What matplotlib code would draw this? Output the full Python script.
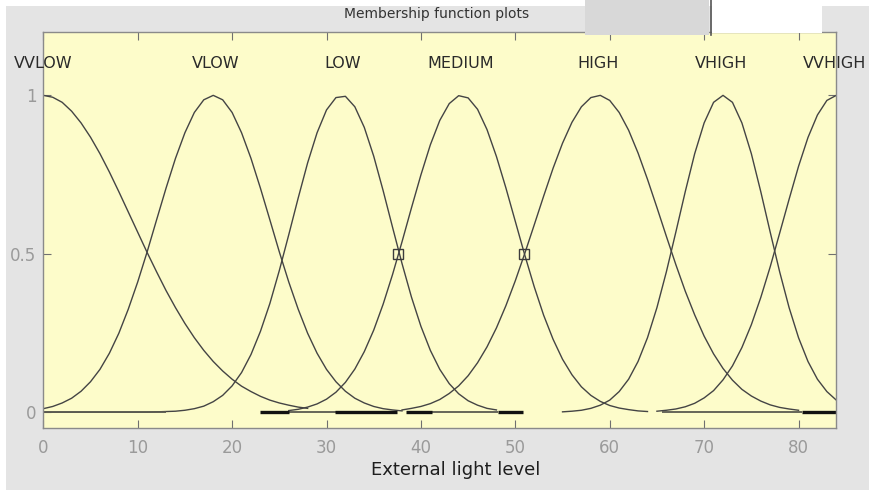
import matplotlib
matplotlib.use('Agg')
import matplotlib.pyplot as plt
from matplotlib.patches import Rectangle

# membership function names
names = ['VVLOW', 'VLOW', 'LOW', 'MEDIUM', 'HIGH', 'VHIGH', 'VVHIGH']
label_x = [0, 18.3, 31.7, 44.2, 58.8, 71.8, 83.8]

# curve samples (x in light level, y in membership degree)
vvlow_x = list(range(0, 29))
vvlow_y = [1, .994, .978, .950, .913, .868, .816, .758, .696, .632, .568, .504, .443, .384, .330,
           .280, .235, .195, .160, .130, .104, .082, .065, .050, .038, .029, .022, .016, .012]

vlow_x = list(range(0, 39))
vlow_y = [.011, .018, .029, .044, .066, .096, .135, .186, .249, .325, .411, .506, .607, .707, .801,
          .882, .946, .986, 1, .986, .946, .882, .801, .707, .607, .506, .411, .325, .249, .186,
          .135, .096, .066, .044, .029, .018, .011, .007, .004]

low_x = list(range(0, 49))
low_y = [0, 0, 0, 0, 0, 0, 0, 0, 0, 0, 0, 0, .001, .002, .003, .006, .011, .019, .033, .053,
         .083, .125, .182, .255, .343, .447, .560, .676, .787, .882, .954, .993, .997, .964, .899,
         .808, .699, .583, .469, .363, .271, .195, .135, .090, .058, .036, .022, .012, .007]

medium_x = list(range(26, 65))
medium_y = [.005, .009, .016, .026, .041, .063, .094, .136, .191, .259, .341, .435, .538, .645,
            .749, .844, .921, .974, .999, .992, .956, .892, .807, .708, .602, .496, .396, .306,
            .230, .167, .118, .080, .053, .034, .021, .013, .008, .004, .002]

high_x = list(range(38, 81))
high_y = [.007, .012, .018, .027, .040, .059, .083, .115, .156, .206, .266, .336, .415, .501,
          .591, .682, .770, .849, .915, .964, .993, 1.0, .984, .946, .890, .818, .735, .646, .555,
          .466, .382, .307, .240, .184, .138, .101, .072, .051, .035, .023, .015, .010, .006]

vhigh_x = list(range(55, 85))
vhigh_y = [.001, .003, .006, .012, .022, .038, .065, .104, .160, .235, .330, .443, .568, .696,
           .816, .913, .978, 1, .978, .913, .816, .696, .568, .443, .330, .235, .160, .104, .065,
           .038]

vvhigh_x = list(range(65, 85))
vvhigh_y = [.003, .006, .010, .017, .028, .045, .068, .102, .146, .204, .276, .362, .459, .565,
            .672, .776, .867, .938, .984, 1]

curves_x = [vvlow_x, vlow_x, low_x, medium_x, high_x, vhigh_x, vvhigh_x]
curves_y = [vvlow_y, vlow_y, low_y, medium_y, high_y, vhigh_y, vvhigh_y]

# overlapping tails along zero
thin_start = [0, 26, 41, 65.5]
thin_end = [13, 31, 48.2, 80.4]
thick_start = [23, 30.9, 38.4, 48.2, 80.4]
thick_end = [26, 37.5, 41.2, 50.8, 84]

# the two crossing markers
mark_x = [37.6, 50.9]
mark_y = [0.5, 0.5]

fig = plt.figure(figsize=(8.69, 4.92), dpi=100)
fig.patch.set_facecolor('white')
fig.patches.append(Rectangle((6 / 869, 2 / 492), 1, 484 / 492, transform=fig.transFigure,
                             facecolor='#e4e4e4', edgecolor='none', zorder=-1))

ax = fig.add_axes([43.3 / 869, 1 - 428 / 492, 793 / 869, 396 / 492])
ax.set_facecolor('#fdfcca')

for xs, ys in zip(curves_x, curves_y):
    ax.plot(xs, ys, color='#444444', lw=1.0)

ax.hlines([0] * len(thin_start), thin_start, thin_end, color='#5a5a50', lw=1.3)
ax.hlines([0] * len(thick_start), thick_start, thick_end, color='#111111', lw=2.4)
ax.plot(mark_x, mark_y, 's', ms=7, mfc='none', mec='#3c3c3c', mew=1.0)

for name, lx in zip(names, label_x):
    ax.text(lx, 1.1, name, ha='center', va='center', fontsize=11.5, color='#2a2a2a', clip_on=False)

ax.set_xlim(0, 84)
ax.set_ylim(-0.05, 1.2)
ax.set_xticks(range(0, 81, 10))
ax.set_yticks([0, 0.5, 1])
ax.set_yticklabels(['0', '0.5', '1'])
ax.tick_params(direction='in', length=6, top=True, right=True, color='#707070',
               labelcolor='#9a9a9a', labelsize=12)
ax.tick_params(axis='x', pad=8)
ax.tick_params(axis='y', pad=5)
for s in ax.spines.values():
    s.set_color('#8a8a8a')
    s.set_linewidth(1.0)

ax.set_xlabel('External light level', fontsize=13, color='#1e1e1e')
ax.xaxis.set_label_coords((456 - 43.3) / 793, -0.084)

fig.text(437 / 869, 1 - 14 / 492, 'Membership function plots', ha='center', va='center',
         fontsize=10, color='#333333')

# bits of the window chrome at the top right
fig.patches.append(Rectangle((585 / 869, 1 - 35 / 492), 124 / 869, 35 / 492, transform=fig.transFigure,
                             facecolor='#d8d8d8', edgecolor='none', zorder=5))
fig.patches.append(Rectangle((712 / 869, 1 - 33 / 492), 110 / 869, 33 / 492, transform=fig.transFigure,
                             facecolor='white', edgecolor='none', zorder=5))
fig.lines.append(plt.Line2D([711 / 869, 711 / 869], [1 - 35 / 492, 1], transform=fig.transFigure,
                            color='#555555', lw=1.2, zorder=6))

fig.savefig('out.png', dpi=100)
